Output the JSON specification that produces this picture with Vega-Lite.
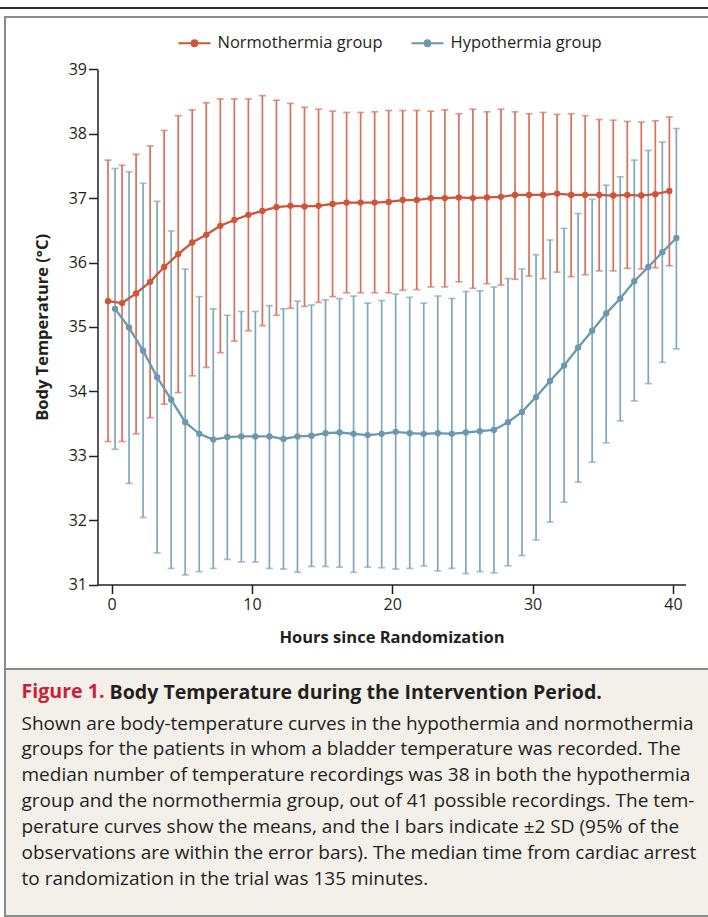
{
  "$schema": "https://vega.github.io/schema/vega-lite/v6.json",
  "padding": {"top": 7, "left": 0, "right": 0, "bottom": 0},
  "background": "white",
  "spacing": 7,
  "center": true,
  "bounds": "full",
  "datasets": {
    "temps": [
      {"group":"Normothermia group","hour":0,"mean":35.40,"low":33.22,"high":37.59},
      {"group":"Normothermia group","hour":1,"mean":35.37,"low":33.22,"high":37.51},
      {"group":"Normothermia group","hour":2,"mean":35.52,"low":33.34,"high":37.68},
      {"group":"Normothermia group","hour":3,"mean":35.70,"low":33.59,"high":37.81},
      {"group":"Normothermia group","hour":4,"mean":35.93,"low":33.80,"high":38.05},
      {"group":"Normothermia group","hour":5,"mean":36.13,"low":33.98,"high":38.28},
      {"group":"Normothermia group","hour":6,"mean":36.31,"low":34.24,"high":38.37},
      {"group":"Normothermia group","hour":7,"mean":36.43,"low":34.37,"high":38.48},
      {"group":"Normothermia group","hour":8,"mean":36.57,"low":34.60,"high":38.54},
      {"group":"Normothermia group","hour":9,"mean":36.66,"low":34.78,"high":38.54},
      {"group":"Normothermia group","hour":10,"mean":36.74,"low":34.94,"high":38.54},
      {"group":"Normothermia group","hour":11,"mean":36.80,"low":35.02,"high":38.59},
      {"group":"Normothermia group","hour":12,"mean":36.86,"low":35.18,"high":38.52},
      {"group":"Normothermia group","hour":13,"mean":36.88,"low":35.29,"high":38.47},
      {"group":"Normothermia group","hour":14,"mean":36.87,"low":35.32,"high":38.41},
      {"group":"Normothermia group","hour":15,"mean":36.88,"low":35.38,"high":38.38},
      {"group":"Normothermia group","hour":16,"mean":36.91,"low":35.47,"high":38.35},
      {"group":"Normothermia group","hour":17,"mean":36.93,"low":35.53,"high":38.33},
      {"group":"Normothermia group","hour":18,"mean":36.93,"low":35.53,"high":38.33},
      {"group":"Normothermia group","hour":19,"mean":36.93,"low":35.53,"high":38.34},
      {"group":"Normothermia group","hour":20,"mean":36.94,"low":35.53,"high":38.36},
      {"group":"Normothermia group","hour":21,"mean":36.97,"low":35.57,"high":38.36},
      {"group":"Normothermia group","hour":22,"mean":36.97,"low":35.58,"high":38.36},
      {"group":"Normothermia group","hour":23,"mean":37.00,"low":35.62,"high":38.35},
      {"group":"Normothermia group","hour":24,"mean":37.00,"low":35.62,"high":38.37},
      {"group":"Normothermia group","hour":25,"mean":37.01,"low":35.70,"high":38.31},
      {"group":"Normothermia group","hour":26,"mean":37.00,"low":35.60,"high":38.38},
      {"group":"Normothermia group","hour":27,"mean":37.01,"low":35.67,"high":38.34},
      {"group":"Normothermia group","hour":28,"mean":37.02,"low":35.65,"high":38.38},
      {"group":"Normothermia group","hour":29,"mean":37.05,"low":35.74,"high":38.34},
      {"group":"Normothermia group","hour":30,"mean":37.05,"low":35.79,"high":38.31},
      {"group":"Normothermia group","hour":31,"mean":37.05,"low":35.75,"high":38.33},
      {"group":"Normothermia group","hour":32,"mean":37.07,"low":35.85,"high":38.30},
      {"group":"Normothermia group","hour":33,"mean":37.05,"low":35.78,"high":38.31},
      {"group":"Normothermia group","hour":34,"mean":37.05,"low":35.81,"high":38.28},
      {"group":"Normothermia group","hour":35,"mean":37.05,"low":35.87,"high":38.22},
      {"group":"Normothermia group","hour":36,"mean":37.04,"low":35.87,"high":38.21},
      {"group":"Normothermia group","hour":37,"mean":37.05,"low":35.91,"high":38.19},
      {"group":"Normothermia group","hour":38,"mean":37.04,"low":35.90,"high":38.18},
      {"group":"Normothermia group","hour":39,"mean":37.06,"low":35.92,"high":38.20},
      {"group":"Normothermia group","hour":40,"mean":37.11,"low":35.95,"high":38.26},
      {"group":"Hypothermia group","hour":0,"mean":35.28,"low":33.10,"high":37.46},
      {"group":"Hypothermia group","hour":1,"mean":34.99,"low":32.57,"high":37.41},
      {"group":"Hypothermia group","hour":2,"mean":34.63,"low":32.04,"high":37.23},
      {"group":"Hypothermia group","hour":3,"mean":34.22,"low":31.49,"high":36.95},
      {"group":"Hypothermia group","hour":4,"mean":33.87,"low":31.25,"high":36.49},
      {"group":"Hypothermia group","hour":5,"mean":33.52,"low":31.15,"high":35.90},
      {"group":"Hypothermia group","hour":6,"mean":33.34,"low":31.20,"high":35.47},
      {"group":"Hypothermia group","hour":7,"mean":33.25,"low":31.25,"high":35.28},
      {"group":"Hypothermia group","hour":8,"mean":33.29,"low":31.39,"high":35.18},
      {"group":"Hypothermia group","hour":9,"mean":33.30,"low":31.35,"high":35.24},
      {"group":"Hypothermia group","hour":10,"mean":33.30,"low":31.35,"high":35.24},
      {"group":"Hypothermia group","hour":11,"mean":33.30,"low":31.25,"high":35.33},
      {"group":"Hypothermia group","hour":12,"mean":33.26,"low":31.24,"high":35.28},
      {"group":"Hypothermia group","hour":13,"mean":33.30,"low":31.19,"high":35.40},
      {"group":"Hypothermia group","hour":14,"mean":33.31,"low":31.28,"high":35.34},
      {"group":"Hypothermia group","hour":15,"mean":33.35,"low":31.28,"high":35.42},
      {"group":"Hypothermia group","hour":16,"mean":33.36,"low":31.27,"high":35.44},
      {"group":"Hypothermia group","hour":17,"mean":33.34,"low":31.19,"high":35.48},
      {"group":"Hypothermia group","hour":18,"mean":33.32,"low":31.27,"high":35.37},
      {"group":"Hypothermia group","hour":19,"mean":33.34,"low":31.26,"high":35.41},
      {"group":"Hypothermia group","hour":20,"mean":33.37,"low":31.24,"high":35.51},
      {"group":"Hypothermia group","hour":21,"mean":33.35,"low":31.25,"high":35.46},
      {"group":"Hypothermia group","hour":22,"mean":33.34,"low":31.29,"high":35.37},
      {"group":"Hypothermia group","hour":23,"mean":33.35,"low":31.21,"high":35.48},
      {"group":"Hypothermia group","hour":24,"mean":33.34,"low":31.25,"high":35.44},
      {"group":"Hypothermia group","hour":25,"mean":33.36,"low":31.17,"high":35.55},
      {"group":"Hypothermia group","hour":26,"mean":33.38,"low":31.20,"high":35.56},
      {"group":"Hypothermia group","hour":27,"mean":33.40,"low":31.18,"high":35.62},
      {"group":"Hypothermia group","hour":28,"mean":33.52,"low":31.29,"high":35.75},
      {"group":"Hypothermia group","hour":29,"mean":33.68,"low":31.45,"high":35.90},
      {"group":"Hypothermia group","hour":30,"mean":33.91,"low":31.69,"high":36.12},
      {"group":"Hypothermia group","hour":31,"mean":34.16,"low":31.97,"high":36.35},
      {"group":"Hypothermia group","hour":32,"mean":34.40,"low":32.28,"high":36.53},
      {"group":"Hypothermia group","hour":33,"mean":34.68,"low":32.59,"high":36.76},
      {"group":"Hypothermia group","hour":34,"mean":34.94,"low":32.90,"high":36.98},
      {"group":"Hypothermia group","hour":35,"mean":35.21,"low":33.20,"high":37.20},
      {"group":"Hypothermia group","hour":36,"mean":35.44,"low":33.54,"high":37.33},
      {"group":"Hypothermia group","hour":37,"mean":35.71,"low":33.85,"high":37.59},
      {"group":"Hypothermia group","hour":38,"mean":35.93,"low":34.12,"high":37.74},
      {"group":"Hypothermia group","hour":39,"mean":36.16,"low":34.45,"high":37.87},
      {"group":"Hypothermia group","hour":40,"mean":36.38,"low":34.66,"high":38.08}
    ]
  },
  "vconcat": [
    {
      "width": 716,
      "height": 2,
      "view": {"fill": "#2f2f2f", "stroke": null, "strokeWidth": 0},
      "data": {"values": []},
      "mark": "point",
      "encoding": {}
    },
    {
      "spacing": 0,
      "bounds": "flush",
      "title": {
        "text": "Body Temperature during the Intervention Period.",
        "orient": "bottom",
        "anchor": "start",
        "frame": "group",
        "offset": -233,
        "dx": 104.5,
        "font": "Open Sans",
        "fontSize": 19.6,
        "fontWeight": "bold",
        "color": "#231f20"
      },
      "vconcat": [
        {
          "width": 705,
          "height": 652,
          "view": {"fill": "white", "stroke": "#8a8a8a", "strokeWidth": 2},
          "data": {"name": "temps"},
          "encoding": {
            "x": {
              "field": "hour",
              "type": "quantitative",
              "title": "Hours since Randomization",
              "scale": {"domain": [-1, 40.9], "range": [92.5, 680.5], "nice": false, "zero": false},
              "axis": {"values": [0, 10, 20, 30, 40], "format": "d", "offset": -84.5, "labelPadding": 3, "titlePadding": 17}
            }
          },
          "layer": [
            {
              "transform": [{"filter": "datum.group === 'Normothermia group'"}],
              "layer": [
                {
                  "mark": {"type": "rule", "xOffset": -3.5, "color": "#d8705b", "strokeWidth": 1.7},
                  "encoding": {
                    "y": {"field": "low", "type": "quantitative", "title": "Body Temperature (°C)", "scale": {"domain": [31, 39], "range": [567.5, 52.3], "nice": false, "zero": false}, "axis": {"values": [31, 32, 33, 34, 35, 36, 37, 38, 39], "offset": -92.5, "labelPadding": 2, "titlePadding": 18}},
                    "y2": {"field": "high"}
                  }
                },
                {
                  "mark": {"type": "tick", "orient": "horizontal", "xOffset": -3.5, "color": "#d8705b", "thickness": 1.7, "size": 7},
                  "encoding": {
                    "y": {"field": "high", "type": "quantitative", "title": "Body Temperature (°C)", "scale": {"domain": [31, 39], "range": [567.5, 52.3], "nice": false, "zero": false}, "axis": {"values": [31, 32, 33, 34, 35, 36, 37, 38, 39], "offset": -92.5, "labelPadding": 2, "titlePadding": 18}}
                  }
                },
                {
                  "mark": {"type": "tick", "orient": "horizontal", "xOffset": -3.5, "color": "#d8705b", "thickness": 1.7, "size": 7},
                  "encoding": {
                    "y": {"field": "low", "type": "quantitative", "title": "Body Temperature (°C)", "scale": {"domain": [31, 39], "range": [567.5, 52.3], "nice": false, "zero": false}, "axis": {"values": [31, 32, 33, 34, 35, 36, 37, 38, 39], "offset": -92.5, "labelPadding": 2, "titlePadding": 18}}
                  }
                }
              ]
            },
            {
              "transform": [{"filter": "datum.group === 'Hypothermia group'"}],
              "layer": [
                {
                  "mark": {"type": "rule", "xOffset": 3.5, "color": "#7ea7bb", "strokeWidth": 1.7},
                  "encoding": {
                    "y": {"field": "low", "type": "quantitative", "title": "Body Temperature (°C)", "scale": {"domain": [31, 39], "range": [567.5, 52.3], "nice": false, "zero": false}, "axis": {"values": [31, 32, 33, 34, 35, 36, 37, 38, 39], "offset": -92.5, "labelPadding": 2, "titlePadding": 18}},
                    "y2": {"field": "high"}
                  }
                },
                {
                  "mark": {"type": "tick", "orient": "horizontal", "xOffset": 3.5, "color": "#7ea7bb", "thickness": 1.7, "size": 7},
                  "encoding": {
                    "y": {"field": "high", "type": "quantitative", "title": "Body Temperature (°C)", "scale": {"domain": [31, 39], "range": [567.5, 52.3], "nice": false, "zero": false}, "axis": {"values": [31, 32, 33, 34, 35, 36, 37, 38, 39], "offset": -92.5, "labelPadding": 2, "titlePadding": 18}}
                  }
                },
                {
                  "mark": {"type": "tick", "orient": "horizontal", "xOffset": 3.5, "color": "#7ea7bb", "thickness": 1.7, "size": 7},
                  "encoding": {
                    "y": {"field": "low", "type": "quantitative", "title": "Body Temperature (°C)", "scale": {"domain": [31, 39], "range": [567.5, 52.3], "nice": false, "zero": false}, "axis": {"values": [31, 32, 33, 34, 35, 36, 37, 38, 39], "offset": -92.5, "labelPadding": 2, "titlePadding": 18}}
                  }
                },
                {
                  "mark": {"type": "line", "xOffset": 3.5, "strokeWidth": 2.3},
                  "encoding": {
                    "y": {"field": "mean", "type": "quantitative", "title": "Body Temperature (°C)", "scale": {"domain": [31, 39], "range": [567.5, 52.3], "nice": false, "zero": false}, "axis": {"values": [31, 32, 33, 34, 35, 36, 37, 38, 39], "offset": -92.5, "labelPadding": 2, "titlePadding": 18}},
                    "color": {"field": "group", "type": "nominal", "scale": {"domain": ["Normothermia group", "Hypothermia group"], "range": ["#cd5538", "#6b98ae"]},
                      "legend": {"title": null, "orient": "none", "legendX": 177.5, "legendY": 19, "direction": "horizontal", "padding": 0, "symbolType": "M-1,0L1,0M-0.18,0A0.18,0.18,0,1,1,0.18,0A0.18,0.18,0,1,1,-0.18,0Z", "symbolSize": 1024, "symbolStrokeWidth": 2, "labelFont": "Open Sans", "labelFontSize": 16.5, "labelColor": "#231f20", "labelOffset": 6, "labelLimit": 400, "columnPadding": 24, "encode": {"symbols": {"update": {"fill": {"scale": "color", "field": "value"}, "stroke": {"scale": "color", "field": "value"}, "opacity": {"value": 1}}}}}}
                  }
                },
                {
                  "mark": {"type": "point", "xOffset": 3.5, "filled": true, "size": 40, "opacity": 1},
                  "encoding": {
                    "y": {"field": "mean", "type": "quantitative", "title": "Body Temperature (°C)", "scale": {"domain": [31, 39], "range": [567.5, 52.3], "nice": false, "zero": false}, "axis": {"values": [31, 32, 33, 34, 35, 36, 37, 38, 39], "offset": -92.5, "labelPadding": 2, "titlePadding": 18}},
                    "color": {"field": "group", "type": "nominal", "scale": {"domain": ["Normothermia group", "Hypothermia group"], "range": ["#cd5538", "#6b98ae"]},
                      "legend": {"title": null, "orient": "none", "legendX": 177.5, "legendY": 19, "direction": "horizontal", "padding": 0, "symbolType": "M-1,0L1,0M-0.18,0A0.18,0.18,0,1,1,0.18,0A0.18,0.18,0,1,1,-0.18,0Z", "symbolSize": 1024, "symbolStrokeWidth": 2, "labelFont": "Open Sans", "labelFontSize": 16.5, "labelColor": "#231f20", "labelOffset": 6, "labelLimit": 400, "columnPadding": 24, "encode": {"symbols": {"update": {"fill": {"scale": "color", "field": "value"}, "stroke": {"scale": "color", "field": "value"}, "opacity": {"value": 1}}}}}}
                  }
                }
              ]
            },
            {
              "transform": [{"filter": "datum.group === 'Normothermia group'"}],
              "layer": [
                {
                  "mark": {"type": "line", "xOffset": -3.5, "strokeWidth": 2.3},
                  "encoding": {
                    "y": {"field": "mean", "type": "quantitative", "title": "Body Temperature (°C)", "scale": {"domain": [31, 39], "range": [567.5, 52.3], "nice": false, "zero": false}, "axis": {"values": [31, 32, 33, 34, 35, 36, 37, 38, 39], "offset": -92.5, "labelPadding": 2, "titlePadding": 18}},
                    "color": {"field": "group", "type": "nominal", "scale": {"domain": ["Normothermia group", "Hypothermia group"], "range": ["#cd5538", "#6b98ae"]},
                      "legend": {"title": null, "orient": "none", "legendX": 177.5, "legendY": 19, "direction": "horizontal", "padding": 0, "symbolType": "M-1,0L1,0M-0.18,0A0.18,0.18,0,1,1,0.18,0A0.18,0.18,0,1,1,-0.18,0Z", "symbolSize": 1024, "symbolStrokeWidth": 2, "labelFont": "Open Sans", "labelFontSize": 16.5, "labelColor": "#231f20", "labelOffset": 6, "labelLimit": 400, "columnPadding": 24, "encode": {"symbols": {"update": {"fill": {"scale": "color", "field": "value"}, "stroke": {"scale": "color", "field": "value"}, "opacity": {"value": 1}}}}}}
                  }
                },
                {
                  "mark": {"type": "point", "xOffset": -3.5, "filled": true, "size": 40, "opacity": 1},
                  "encoding": {
                    "y": {"field": "mean", "type": "quantitative", "title": "Body Temperature (°C)", "scale": {"domain": [31, 39], "range": [567.5, 52.3], "nice": false, "zero": false}, "axis": {"values": [31, 32, 33, 34, 35, 36, 37, 38, 39], "offset": -92.5, "labelPadding": 2, "titlePadding": 18}},
                    "color": {"field": "group", "type": "nominal", "scale": {"domain": ["Normothermia group", "Hypothermia group"], "range": ["#cd5538", "#6b98ae"]},
                      "legend": {"title": null, "orient": "none", "legendX": 177.5, "legendY": 19, "direction": "horizontal", "padding": 0, "symbolType": "M-1,0L1,0M-0.18,0A0.18,0.18,0,1,1,0.18,0A0.18,0.18,0,1,1,-0.18,0Z", "symbolSize": 1024, "symbolStrokeWidth": 2, "labelFont": "Open Sans", "labelFontSize": 16.5, "labelColor": "#231f20", "labelOffset": 6, "labelLimit": 400, "columnPadding": 24, "encode": {"symbols": {"update": {"fill": {"scale": "color", "field": "value"}, "stroke": {"scale": "color", "field": "value"}, "opacity": {"value": 1}}}}}}
                  }
                }
              ]
            }
          ]
        },
        {
          "width": 705,
          "height": 247,
          "view": {"fill": "#f3f0ea", "stroke": "#8a8a8a", "strokeWidth": 2},
          "data": {"values": []},
          "mark": "point",
          "encoding": {},
          "title": {
            "text": "Figure 1.",
            "subtitle": [
              "Shown are body-temperature curves in the hypothermia and normothermia",
              "groups for the patients in whom a bladder temperature was recorded. The",
              "median number of temperature recordings was 38 in both the hypothermia",
              "group and the normothermia group, out of 41 possible recordings. The tem-",
              "perature curves show the means, and the I bars indicate ±2 SD (95% of the",
              "observations are within the error bars). The median time from cardiac arrest",
              "to randomization in the trial was 135 minutes."
            ],
            "orient": "bottom",
            "anchor": "start",
            "frame": "group",
            "offset": -233,
            "dx": 16.5,
            "font": "Open Sans",
            "fontSize": 19.6,
            "fontWeight": "bold",
            "color": "#c91f37",
            "subtitleFont": "Open Sans",
            "subtitleFontSize": 19,
            "subtitleFontWeight": "normal",
            "subtitleColor": "#231f20",
            "subtitleLineHeight": 25.9,
            "subtitlePadding": 12
          }
        }
      ]
    }
  ],
  "config": {
    "font": "Open Sans",
    "axis": {
      "grid": false,
      "domainColor": "#231f20",
      "domainWidth": 1.5,
      "tickColor": "#231f20",
      "tickWidth": 1.5,
      "tickSize": 9,
      "labelFont": "Open Sans",
      "labelFontSize": 16,
      "labelColor": "#231f20",
      "titleFont": "Open Sans",
      "titleFontSize": 16.5,
      "titleFontWeight": "bold",
      "titleColor": "#231f20"
    }
  }
}
